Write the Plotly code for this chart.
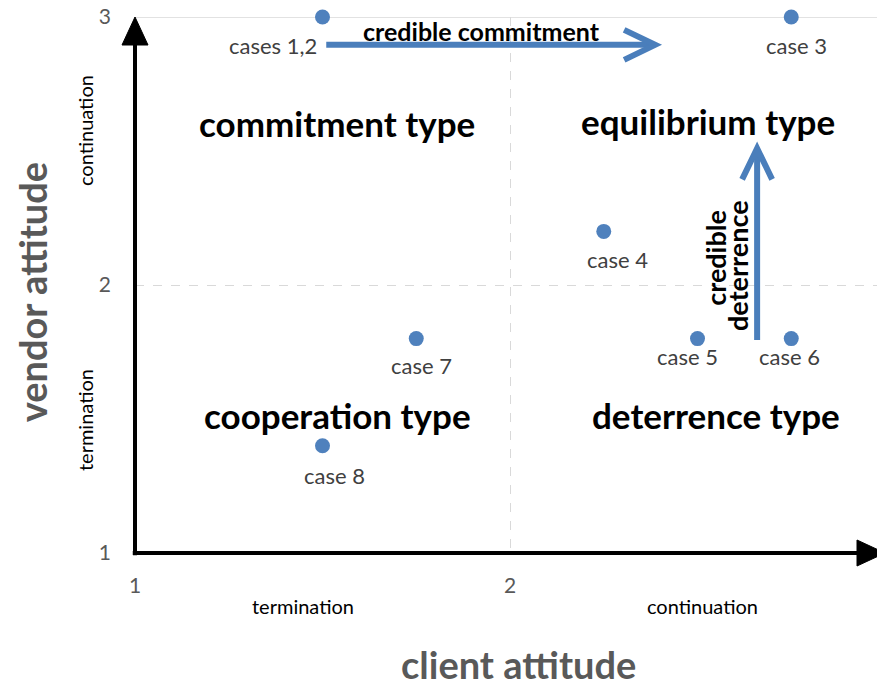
import plotly.graph_objects as go

# ---- data ----
case_labels = ["cases 1,2", "case 3", "case 4", "case 5", "case 6", "case 7", "case 8"]
client_att = [1.5, 2.75, 2.25, 2.5, 2.75, 1.75, 1.5]
vendor_att = [3.0, 3.0, 2.2, 1.8, 1.8, 1.8, 1.4]
tick_vals = [1, 2, 3]
tick_text = ["1", "2", "3"]
quadrant_names = ["commitment type", "equilibrium type", "cooperation type", "deterrence type"]
quadrant_x = [1.539, 2.528, 1.541, 2.549]
quadrant_y = [2.604, 2.612, 1.514, 1.514]

# label offsets (pixels) for case labels
lab_dx = [-50, 5, 14, -10, -2, 5, 12]
lab_dy = [-28, -28, -28, -18, -18, -27, -30]

FONT = "Lato"
BLUE = "#4a7ebb"
fig = go.Figure()

fig.add_trace(go.Scatter(
    x=client_att, y=vendor_att, mode="markers",
    marker=dict(size=15, color="#4f81bd"), hoverinfo="skip", showlegend=False,
    cliponaxis=False,
))

annotations = []
for lab, x, y, dx, dy in zip(case_labels, client_att, vendor_att, lab_dx, lab_dy):
    annotations.append(dict(x=x, y=y, text=lab, showarrow=False, xshift=dx, yshift=dy,
                            xanchor="center", yanchor="middle",
                            font=dict(family=FONT, size=22, color="#404040")))
for name, x, y in zip(quadrant_names, quadrant_x, quadrant_y):
    annotations.append(dict(x=x, y=y, text="<b>%s</b>" % name, showarrow=False,
                            xanchor="center", yanchor="middle",
                            font=dict(family=FONT, size=35, color="black")))

# arrow labels
annotations.append(dict(x=1.925, y=2.948, text="<b>credible commitment</b>", showarrow=False,
                        xanchor="center", yanchor="middle",
                        font=dict(family=FONT, size=25, color="black")))
annotations.append(dict(x=2.549, y=2.101, text="<b>credible</b>", showarrow=False,
                        xanchor="center", yanchor="middle",
                        textangle=-90, font=dict(family=FONT, size=27, color="black")))
annotations.append(dict(x=2.608, y=2.071, text="<b>deterrence</b>", showarrow=False,
                        xanchor="center", yanchor="middle",
                        textangle=-90, font=dict(family=FONT, size=27, color="black")))

# axis sub-labels
sub = dict(xref="paper", yref="paper", showarrow=False, xanchor="center", yanchor="middle")
annotations += [
    dict(x=0.224, y=-0.099, text="termination", font=dict(family=FONT, size=20, color="black"), **sub),
    dict(x=0.756, y=-0.099, text="continuation", font=dict(family=FONT, size=20, color="black"), **sub),
    dict(x=-0.0667, y=0.789, text="continuation", textangle=-90,
         font=dict(family=FONT, size=20, color="black"), **sub),
    dict(x=-0.0667, y=0.248, text="termination", textangle=-90,
         font=dict(family=FONT, size=20, color="black"), **sub),
]
# axis titles
annotations += [
    dict(x=0.511, y=-0.207, text="<b>client attitude</b>",
         font=dict(family=FONT, size=38, color="#595959"), **sub),
    dict(x=-0.137, y=0.487, text="<b>vendor attitude</b>", textangle=-90,
         font=dict(family=FONT, size=38, color="#595959"), **sub),
]

shapes = [
    # top solid gridline
    dict(type="line", xref="x", yref="y", x0=1, x1=3, y0=3, y1=3,
         line=dict(color="#d9d9d9", width=1.5), layer="below"),
    # axes lines
    dict(type="line", xref="paper", yref="paper", x0=-0.003, x1=0.97, y0=0, y1=0, line=dict(color="black", width=4)),
    dict(type="line", xref="paper", yref="paper", x0=0, x1=0, y0=-0.004, y1=0.96, line=dict(color="black", width=4)),
    # axis arrowheads
    dict(type="path", xref="paper", yref="paper", xsizemode="pixel", ysizemode="pixel", xanchor=1, yanchor=0,
         path="M -28,13 L 0,0 L -28,-13 Z", fillcolor="black", line=dict(color="black", width=1)),
    dict(type="path", xref="paper", yref="paper", xsizemode="pixel", ysizemode="pixel", xanchor=0, yanchor=1,
         path="M -13,-28 L 0,0 L 13,-28 Z", fillcolor="black", line=dict(color="black", width=1)),
    # credible commitment arrow
    dict(type="line", xref="x", yref="y", x0=1.51, x1=2.38, y0=2.896, y1=2.896, line=dict(color=BLUE, width=6)),
    dict(type="path", xref="x", yref="y", xsizemode="pixel", ysizemode="pixel", xanchor=2.387, yanchor=2.896,
         path="M -31,15 L 0,0 L -31,-15", line=dict(color=BLUE, width=6)),
    # credible deterrence arrow
    dict(type="line", xref="x", yref="y", x0=2.659, x1=2.659, y0=1.795, y1=2.5, line=dict(color=BLUE, width=6)),
    dict(type="path", xref="x", yref="y", xsizemode="pixel", ysizemode="pixel", xanchor=2.659, yanchor=2.51,
         path="M -15,-31 L 0,0 L 15,-31", line=dict(color=BLUE, width=6)),
]

axis_common = dict(
    range=[1, 3], tickvals=tick_vals, ticktext=tick_text, showgrid=True, automargin=False,
    gridcolor="#d9d9d9", griddash="dash", gridwidth=1.2, zeroline=False, showline=False,
    tickfont=dict(family=FONT, size=21, color="#595959"), ticks="", fixedrange=True,
    ticklabeloverflow="allow",
)
fig.update_xaxes(**axis_common, ticklabelstandoff=18)
fig.update_yaxes(**axis_common, ticklabelstandoff=23)

# page body has an 8px margin, so the figure is offset by 8px; compensate here
fig.update_layout(
    width=877, height=680, margin=dict(l=127, r=0, t=9, b=135),
    plot_bgcolor="white", paper_bgcolor="white",
    annotations=annotations, shapes=shapes, showlegend=False,
)
fig.write_html("out.html")
